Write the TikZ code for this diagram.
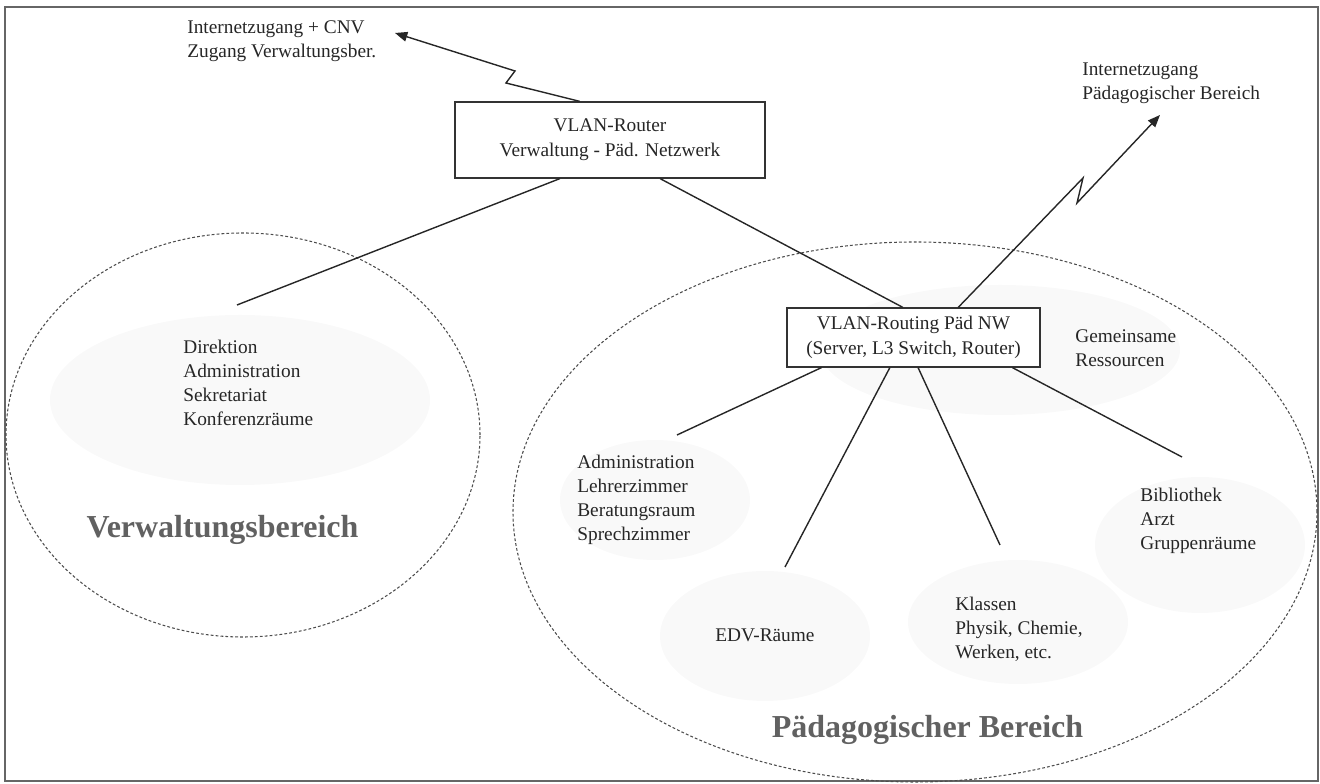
\documentclass[tikz,border=0pt]{standalone}
\usepackage{fontspec}
\setmainfont{Liberation Serif}
\usetikzlibrary{arrows.meta,calc,positioning}

\tikzset{
  box/.style={draw=black!80,fill=white,line width=.7pt,align=center,inner sep=0pt,
    font=\fontsize{11}{14}\selectfont,text=black!85},
  grp/.style={align=left,inner sep=0pt,anchor=west,text=black!85,
    font=\fontsize{11}{13.7}\selectfont},
  area/.style={inner sep=0pt,text=black!62,font=\fontsize{18.2}{20}\selectfont\bfseries},
  zone/.style={draw=black!70,dash pattern=on 1.6pt off 1.2pt,line width=.6pt},
  blob/.style={fill=black!2.5,draw=none},
  link/.style={draw=black!85,line width=.8pt},
  wan/.style={link,-{Triangle[length=7pt,width=5.5pt]}}
}

\begin{document}
\begin{tikzpicture}
  \useasboundingbox (0,0) rectangle (26.4,15.68);
 %frame
  \draw[black!60,line width=.6pt] (0.1,0.06) rectangle (26.36,15.54);
 %shaded groups
  \fill[blob] (4.8,7.68) ellipse (3.8 and 1.7);
  \fill[blob] (13.1,5.68) ellipse (1.9 and 1.2);
  \fill[blob] (15.3,2.96) ellipse (2.1 and 1.3);
  \fill[blob] (20.36,3.24) ellipse (2.2 and 1.24);
  \fill[blob] (24.0,4.78) ellipse (2.1 and 1.36);
  \fill[blob] (20.0,8.68) ellipse (3.6 and 1.3);
 %the two areas
  \draw[zone] (4.86,6.98) ellipse (4.74 and 4.04);
  \draw[zone] (18.3,5.44) ellipse (8.04 and 5.4);
 %routers
  \node[box,minimum width=6.2cm,minimum height=1.52cm] (router) at (12.2,12.88)
    {VLAN-Router\\Verwaltung - Päd. Netzwerk};
  \node[box,minimum width=5.06cm,minimum height=1.18cm] (vrouting) at (18.27,8.93)
    {VLAN-Routing Päd NW\\(Server, L3 Switch, Router)};
 %labels
  \node[grp] (inetverw) at (3.74,14.85) {Internetzugang + CNV\\Zugang Verwaltungsber.};
  \node[grp] (inetpaed) at (21.64,14.01) {Internetzugang\\Pädagogischer Bereich};
  \node[grp] (verwgrp) at (3.66,8.02) {Direktion\\Administration\\Sekretariat\\Konferenzräume};
  \node[grp] (admgrp) at (11.54,5.69) {Administration\\Lehrerzimmer\\Beratungsraum\\Sprechzimmer};
  \node[grp] (gemres) at (21.5,8.71) {Gemeinsame\\Ressourcen};
  \node[grp] (bibgrp) at (22.8,5.26) {Bibliothek\\Arzt\\Gruppenräume};
  \node[grp] (edv) at (14.3,2.98) {EDV-Räume};
  \node[grp] (klassen) at (19.1,3.1) {Klassen\\Physik, Chemie,\\Werken, etc.};
  \node[area] (verwlabel) at (4.45,5.08) {Verwaltungsbereich};
  \node[area] (paedlabel) at (18.55,1.08) {Pädagogischer Bereich};
 %free ends of the links
  \coordinate (verwend) at (4.74,9.58);
  \coordinate (admend) at (13.54,6.98);
  \coordinate (edvend) at (15.7,4.34);
  \coordinate (klend) at (20.0,4.78);
  \coordinate (bibend) at (23.64,6.54);
 %links
  \draw[link] ($(router.south west)!.339!(router.south east)$) -- (verwend);
  \draw[link] ($(router.south west)!.661!(router.south east)$) -- ($(vrouting.north west)!.458!(vrouting.north east)$);
  \draw[link] ($(vrouting.south west)!.138!(vrouting.south east)$) -- (admend);
  \draw[link] ($(vrouting.south west)!.407!(vrouting.south east)$) -- (edvend);
  \draw[link] ($(vrouting.south west)!.518!(vrouting.south east)$) -- (klend);
  \draw[link] ($(vrouting.south west)!.889!(vrouting.south east)$) -- (bibend);
 %internet access
  \coordinate (tipverw) at (7.9,15.02);
  \coordinate (tippaed) at (23.2,13.38);
  \draw[wan] ($(router.north west)!.403!(router.north east)$) -- (10.12,14.02) -- (10.3,14.26) -- (tipverw);
  \draw[wan] ($(vrouting.north west)!.676!(vrouting.north east)$) -- (21.66,12.12) -- (21.54,11.62) -- (tippaed);
\end{tikzpicture}
\end{document}
